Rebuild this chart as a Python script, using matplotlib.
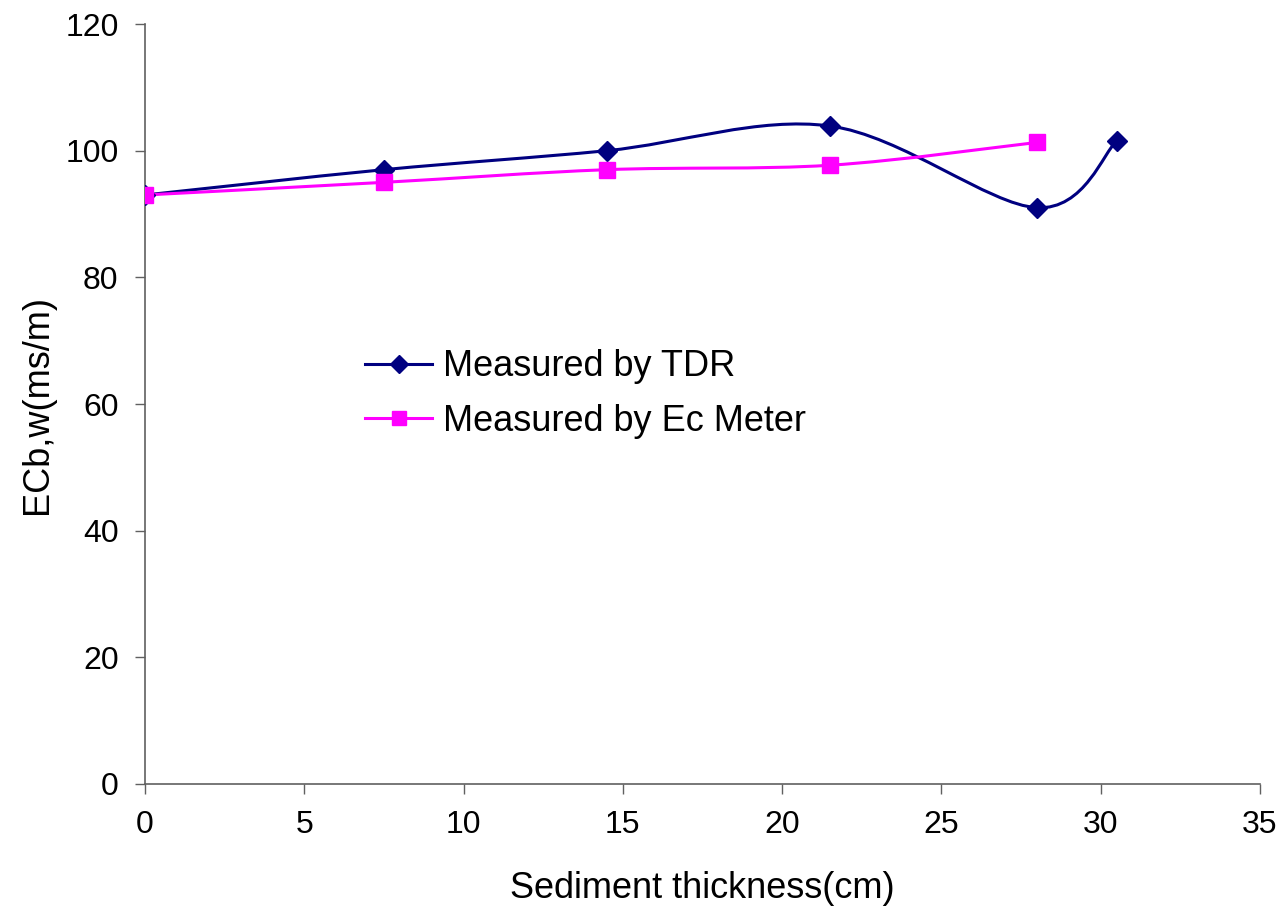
import matplotlib
matplotlib.use("Agg")
import matplotlib.pyplot as plt
from matplotlib.path import Path
from matplotlib.patches import PathPatch
from matplotlib.lines import Line2D
import numpy as np

plt.rcParams['font.family'] = ['Liberation Sans', 'DejaVu Sans']

# Data
tdr_x = [0, 7.5, 14.5, 21.5, 28, 30.5]
tdr_y = [93.0, 97.0, 100.0, 103.9, 91.0, 101.5]
ec_x = [0, 7.5, 14.5, 21.5, 28]
ec_y = [93.0, 95.0, 97.0, 97.7, 101.3]

series_labels = ["Measured by TDR", "Measured by Ec Meter"]
x_ticks = [0, 5, 10, 15, 20, 25, 30, 35]
y_ticks = [0, 20, 40, 60, 80, 100, 120]

TDR_COLOR = '#000080'
EC_COLOR = '#FF00FF'


def smooth_path(xs, ys):
    pts = np.column_stack([xs, ys]).astype(float)
    n = len(pts)
    verts = [pts[0]]
    codes = [Path.MOVETO]
    for i in range(n - 1):
        p_prev = pts[i - 1] if i > 0 else pts[i]
        p0 = pts[i]
        p1 = pts[i + 1]
        p_next = pts[i + 2] if i + 2 < n else pts[i + 1]
        c1 = p0 + (p1 - p_prev) / 6.0
        c2 = p1 - (p_next - p0) / 6.0
        verts += [c1, c2, p1]
        codes += [Path.CURVE4] * 3
    return Path(verts, codes)


fig = plt.figure(figsize=(12.85, 9.13), dpi=100)
ax = fig.add_axes([0.1128, 0.1413, 0.8677, 0.8324])

ax.add_patch(PathPatch(smooth_path(tdr_x, tdr_y), fill=False,
                       edgecolor=TDR_COLOR, lw=2.2, zorder=3))
ax.add_patch(PathPatch(smooth_path(ec_x, ec_y), fill=False,
                       edgecolor=EC_COLOR, lw=2.2, zorder=3))
ax.plot(tdr_x, tdr_y, linestyle='none', marker='D', ms=10,
        color=TDR_COLOR, zorder=4)
ax.plot(ec_x, ec_y, linestyle='none', marker='s', ms=11,
        color=EC_COLOR, zorder=5)

ax.set_xlim(0, 35)
ax.set_ylim(0, 120)
ax.set_xticks(x_ticks)
ax.set_yticks(y_ticks)
ax.tick_params(axis='both', labelsize=23, direction='out', length=7,
               color='#606060', width=1)
ax.tick_params(axis='x', pad=12)
ax.tick_params(axis='y', pad=12)
for s in ['top', 'right']:
    ax.spines[s].set_visible(False)
for s in ['left', 'bottom']:
    ax.spines[s].set_color('#606060')
    ax.spines[s].set_linewidth(1.2)
ax.spines['left'].set_zorder(1)

ax.set_xlabel("Sediment thickness(cm)", fontsize=26, labelpad=22)
ax.set_ylabel("ECb,w(ms/m)", fontsize=26, labelpad=7)

handles = [
    Line2D([], [], color=TDR_COLOR, lw=2.2, marker='D', ms=9),
    Line2D([], [], color=EC_COLOR, lw=2.2, marker='s', ms=10),
]
leg = ax.legend(handles, series_labels, loc='upper left',
                bbox_to_anchor=(0.1845, 0.591), frameon=False,
                fontsize=26, handlelength=1.85, handletextpad=0.3,
                labelspacing=0.54, borderaxespad=0)

fig.savefig("out.png", dpi=100)
